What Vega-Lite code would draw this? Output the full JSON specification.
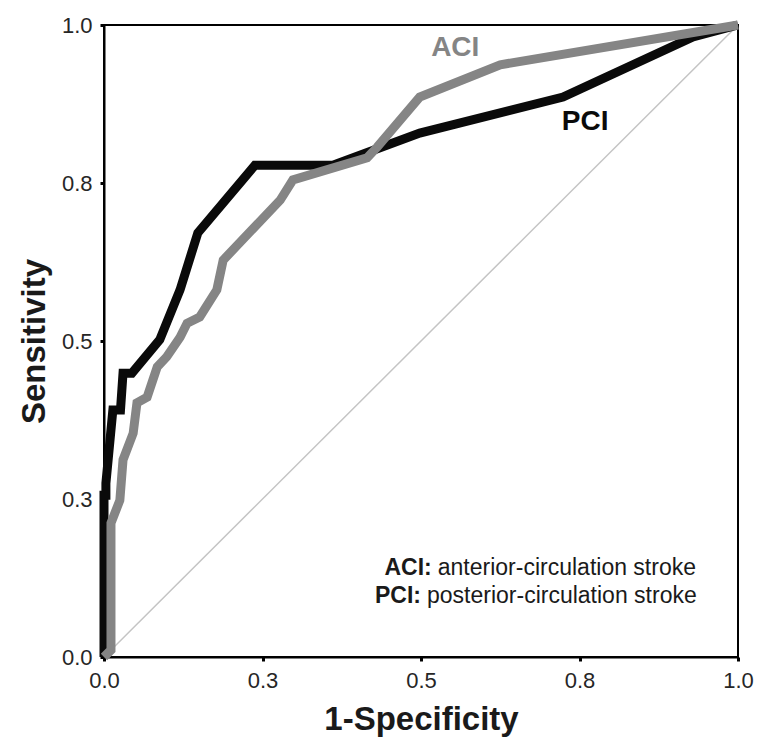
{
  "$schema": "https://vega.github.io/schema/vega-lite/v6.json",
  "width": 634,
  "height": 632,
  "autosize": {"type": "none"},
  "padding": {"left": 104, "top": 25, "right": 31, "bottom": 99},
  "background": "white",
  "config": {
    "view": {"stroke": "black", "strokeWidth": 2},
    "font": "Liberation Sans",
    "axis": {
      "domainColor": "black",
      "domainWidth": 2,
      "tickColor": "black",
      "tickWidth": 3,
      "tickSize": 4,
      "grid": false,
      "labelFont": "Liberation Sans",
      "labelFontSize": 22,
      "labelColor": "#262626",
      "labelFlush": false,
      "labelBound": false,
      "labelOverlap": false,
      "titleFont": "Liberation Sans",
      "titleFontSize": 33,
      "titleFontWeight": "bold",
      "titleColor": "#1a1a1a"
    }
  },
  "datasets": {
    "roc": [
      {"s": "PCI", "i": 0, "x": 0, "y": 0},
      {"s": "PCI", "i": 1, "x": 0, "y": 0.256},
      {"s": "PCI", "i": 2, "x": 0.003, "y": 0.256},
      {"s": "PCI", "i": 3, "x": 0.003, "y": 0.275},
      {"s": "PCI", "i": 4, "x": 0.014, "y": 0.391},
      {"s": "PCI", "i": 5, "x": 0.026, "y": 0.391},
      {"s": "PCI", "i": 6, "x": 0.030, "y": 0.449},
      {"s": "PCI", "i": 7, "x": 0.044, "y": 0.449},
      {"s": "PCI", "i": 8, "x": 0.088, "y": 0.502},
      {"s": "PCI", "i": 9, "x": 0.120, "y": 0.581},
      {"s": "PCI", "i": 10, "x": 0.148, "y": 0.671},
      {"s": "PCI", "i": 11, "x": 0.238, "y": 0.778},
      {"s": "PCI", "i": 12, "x": 0.361, "y": 0.778},
      {"s": "PCI", "i": 13, "x": 0.498, "y": 0.829},
      {"s": "PCI", "i": 14, "x": 0.724, "y": 0.886},
      {"s": "PCI", "i": 15, "x": 0.929, "y": 0.981},
      {"s": "PCI", "i": 16, "x": 1, "y": 1},
      {"s": "ACI", "i": 0, "x": 0, "y": 0},
      {"s": "ACI", "i": 1, "x": 0.011, "y": 0.011},
      {"s": "ACI", "i": 2, "x": 0.011, "y": 0.212},
      {"s": "ACI", "i": 3, "x": 0.025, "y": 0.248},
      {"s": "ACI", "i": 4, "x": 0.030, "y": 0.312},
      {"s": "ACI", "i": 5, "x": 0.046, "y": 0.354},
      {"s": "ACI", "i": 6, "x": 0.052, "y": 0.402},
      {"s": "ACI", "i": 7, "x": 0.068, "y": 0.411},
      {"s": "ACI", "i": 8, "x": 0.084, "y": 0.459},
      {"s": "ACI", "i": 9, "x": 0.099, "y": 0.475},
      {"s": "ACI", "i": 10, "x": 0.120, "y": 0.506},
      {"s": "ACI", "i": 11, "x": 0.131, "y": 0.528},
      {"s": "ACI", "i": 12, "x": 0.151, "y": 0.538},
      {"s": "ACI", "i": 13, "x": 0.178, "y": 0.581},
      {"s": "ACI", "i": 14, "x": 0.188, "y": 0.628},
      {"s": "ACI", "i": 15, "x": 0.278, "y": 0.723},
      {"s": "ACI", "i": 16, "x": 0.298, "y": 0.755},
      {"s": "ACI", "i": 17, "x": 0.415, "y": 0.790},
      {"s": "ACI", "i": 18, "x": 0.431, "y": 0.807},
      {"s": "ACI", "i": 19, "x": 0.498, "y": 0.886},
      {"s": "ACI", "i": 20, "x": 0.625, "y": 0.937},
      {"s": "ACI", "i": 21, "x": 1, "y": 1}
    ],
    "diag": [
      {"x": 0, "y": 0},
      {"x": 1, "y": 1}
    ],
    "curveLabels": [
      {"t": "ACI", "x": 0.554, "y": 0.964, "c": "ACI"},
      {"t": "PCI", "x": 0.759, "y": 0.847, "c": "PCI"}
    ],
    "legend": [
      {"b": "ACI:", "r": "anterior-circulation stroke", "x": 0.517, "y": 0.141},
      {"b": "PCI:", "r": "posterior-circulation stroke", "x": 0.500, "y": 0.097}
    ]
  },
  "layer": [
    {
      "data": {"name": "diag"},
      "mark": {"type": "line", "color": "#c4c4c4", "strokeWidth": 1.5, "clip": true},
      "encoding": {
        "x": {"field": "x", "type": "quantitative", "scale": {"domain": [0, 1], "nice": false},
          "axis": {"values": [0, 0.25, 0.5, 0.75, 1], "format": ".1f", "title": "1-Specificity", "titlePadding": 12, "labelPadding": 9}},
        "y": {"field": "y", "type": "quantitative", "scale": {"domain": [0, 1], "nice": false},
          "axis": {"values": [0, 0.25, 0.5, 0.75, 1], "format": ".1f", "title": "Sensitivity", "titlePadding": 10, "labelPadding": 8}}
      }
    },
    {
      "data": {"name": "roc"},
      "transform": [{"filter": "datum.s === 'PCI'"}],
      "mark": {"type": "line", "color": "#0a0a0a", "strokeWidth": 9, "strokeJoin": "miter", "strokeCap": "butt"},
      "encoding": {
        "x": {"field": "x", "type": "quantitative"},
        "y": {"field": "y", "type": "quantitative"},
        "order": {"field": "i", "type": "quantitative"}
      }
    },
    {
      "data": {"name": "roc"},
      "transform": [{"filter": "datum.s === 'ACI'"}],
      "mark": {"type": "line", "color": "#858585", "strokeWidth": 9, "strokeJoin": "miter", "strokeCap": "butt"},
      "encoding": {
        "x": {"field": "x", "type": "quantitative"},
        "y": {"field": "y", "type": "quantitative"},
        "order": {"field": "i", "type": "quantitative"}
      }
    },
    {
      "data": {"name": "curveLabels"},
      "mark": {"type": "text", "fontSize": 28, "fontWeight": "bold", "align": "center", "baseline": "middle", "font": "Liberation Sans"},
      "encoding": {
        "x": {"field": "x", "type": "quantitative"},
        "y": {"field": "y", "type": "quantitative"},
        "text": {"field": "t"},
        "color": {"field": "c", "type": "nominal", "scale": {"domain": ["ACI", "PCI"], "range": ["#858585", "#0a0a0a"]}, "legend": null}
      }
    },
    {
      "data": {"name": "legend"},
      "mark": {"type": "text", "fontSize": 23, "fontWeight": "bold", "align": "right", "baseline": "middle", "color": "#1a1a1a", "font": "Liberation Sans"},
      "encoding": {
        "x": {"field": "x", "type": "quantitative"},
        "y": {"field": "y", "type": "quantitative"},
        "text": {"field": "b"}
      }
    },
    {
      "data": {"name": "legend"},
      "mark": {"type": "text", "fontSize": 23, "align": "left", "baseline": "middle", "dx": 6, "color": "#1a1a1a", "font": "Liberation Sans"},
      "encoding": {
        "x": {"field": "x", "type": "quantitative"},
        "y": {"field": "y", "type": "quantitative"},
        "text": {"field": "r"}
      }
    }
  ]
}
